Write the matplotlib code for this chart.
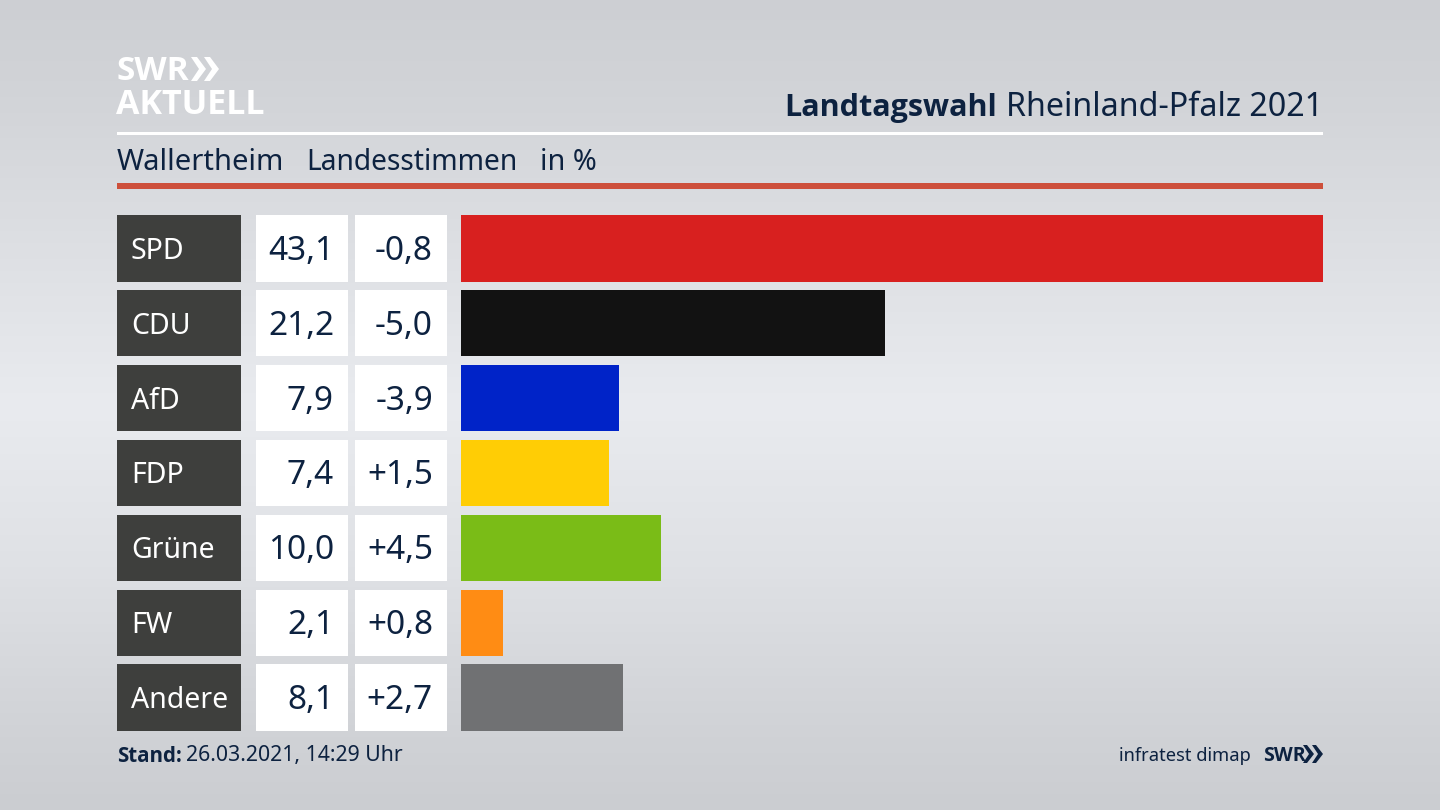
import matplotlib
matplotlib.use("Agg")
import matplotlib.pyplot as plt
from matplotlib.patches import Rectangle, Polygon
import numpy as np

parties = ["SPD", "CDU", "AfD", "FDP", "Grüne", "FW", "Andere"]
shares = [43.1, 21.2, 7.9, 7.4, 10.0, 2.1, 8.1]
changes = ["-0,8", "-5,0", "-3,9", "+1,5", "+4,5", "+0,8", "+2,7"]
colors = ["#d8201f", "#121212", "#0023c8", "#ffcd05", "#7abc17", "#ff8c14", "#707173"]

plt.rcParams["font.family"] = ["Noto Sans", "DejaVu Sans"]
NAVY = "#0d2240"
BOLD = ["Open Sans", "DejaVu Sans"]

fig = plt.figure(figsize=(14.4, 8.1), dpi=100)

# background, pixel coords
bg = fig.add_axes([0, 0, 1, 1])
bg.set_xlim(0, 1440)
bg.set_ylim(810, 0)
bg.axis("off")
grad = np.array([0, 0.12, 0.3, 0.5, 0.7, 0.88, 1.0])
tone = np.array([205, 210, 221, 233, 223, 210, 203])
col = np.interp(np.linspace(0, 1, 200), grad, tone)
img = np.stack([col, col + 2, col + 6], axis=1)[:, None, :] / 255
img = np.clip(img, 0, 1)
bg.imshow(img, extent=[0, 1440, 810, 0], aspect="auto", zorder=0)

# logo
bg.text(117, 71, "SWR", fontsize=24, fontweight="bold", family=BOLD, color="white", va="center", ha="left")
bg.text(116, 105, "AKTUELL", fontsize=24.5, fontweight="bold", family=BOLD, color="white", va="center", ha="left")
for x0 in (191, 204):
    bg.add_patch(Polygon([(x0, 57), (x0 + 6, 57), (x0 + 15, 69), (x0 + 6, 81), (x0, 81), (x0 + 8, 69)], color="white", lw=0))

# header
bg.text(997, 108, "Landtagswahl", fontsize=22, fontweight="bold", family=BOLD, color=NAVY, va="center", ha="right")
bg.text(1323, 108, "Rheinland-Pfalz 2021", fontsize=23.2, color=NAVY, va="center", ha="right")
bg.add_patch(Rectangle((117, 132), 1206, 3, color="white", lw=0))
bg.text(117, 162, "Wallertheim", fontsize=21, color=NAVY, va="center")
bg.text(306, 162, "Landesstimmen", fontsize=20.3, color=NAVY, va="center")
bg.text(540, 162, "in %", fontsize=20.7, color=NAVY, va="center")
bg.add_patch(Rectangle((117, 183), 1206, 6, color="#cd4f3b", lw=0))

# rows
row_h = 66.5
row_step = 74.9
for i, (p, s, c) in enumerate(zip(parties, shares, changes)):
    top = 215 + i * row_step
    mid = top + row_h / 2 + 3
    bg.add_patch(Rectangle((117, top), 124, row_h, color="#3e3f3d", lw=0))
    bg.add_patch(Rectangle((256, top), 92, row_h, color="white", lw=0))
    bg.add_patch(Rectangle((355, top), 92, row_h, color="white", lw=0))
    bg.text(131, mid, p, fontsize=20.5, color="white", va="center")
    bg.text(334, mid, f"{s:.1f}".replace(".", ","), fontsize=24, color=NAVY, va="center", ha="right")
    bg.text(433, mid, c, fontsize=24, color=NAVY, va="center", ha="right")

# bars get their own axes, scale fixed by largest value
ax = fig.add_axes([461 / 1440, 1 - 731 / 810, 862 / 1440, 516 / 810])
ax.patch.set_alpha(0)
ax.barh(range(len(parties)), shares, color=colors, height=row_h / row_step)
ax.set_xlim(0, max(shares))
ax.set_ylim(len(parties) - 0.5 - 0.056, -0.5 + 0.056)
ax.axis("off")

# footer
bg.text(117, 756, "Stand:", fontsize=14.8, fontweight="bold", family=BOLD, color=NAVY, va="center")
bg.text(186, 756, "26.03.2021, 14:29 Uhr", fontsize=15.3, color=NAVY, va="center")
bg.text(1251, 756, "infratest dimap", fontsize=13.2, color=NAVY, va="center", ha="right")
bg.text(1263, 756, "SWR", fontsize=14, fontweight="bold", family=BOLD, color=NAVY, va="center")
for x0 in (1303, 1312):
    bg.add_patch(Polygon([(x0, 745), (x0 + 4, 745), (x0 + 11, 754), (x0 + 4, 763), (x0, 763), (x0 + 6, 754)], color=NAVY, lw=0))

fig.savefig("out.png", dpi=100)
